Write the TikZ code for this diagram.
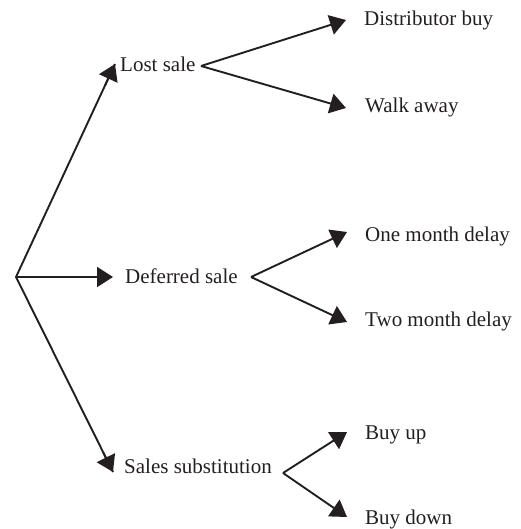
\documentclass[tikz,border=0pt]{standalone}
\usepackage{fontspec}
\setmainfont{Liberation Serif}
\usetikzlibrary{arrows.meta,calc}
\definecolor{ink}{HTML}{231F20}
\begin{document}
\begin{tikzpicture}[x=1pt,y=-1pt,
  lbl/.style={anchor=base west,inner sep=0pt,font=\fontsize{21}{24}\selectfont,text=ink},
  conn/.style={draw=ink,line width=1.9pt,-{Triangle[length=16pt,width=20pt]}},
  link/.style={draw=ink,line width=1.9pt}]
\useasboundingbox (0,0) rectangle (520,529);
\coordinate (root) at (16,277);
% level 1
\node[lbl] (ls) at (120,72) {Lost sale};
\node[lbl] (ds) at (125,283) {Deferred sale};
\node[lbl] (ss) at (124,473) {Sales substitution};
\coordinate (lstip) at (115,64);
\coordinate (dstip) at (113,277);
\coordinate (sstip) at (113,472);
\draw[link] (lstip) -- (root) -- (sstip);
\draw[conn] ($(root)!0.9!(lstip)$) -- (lstip);
\draw[conn] (root) -- (dstip);
\draw[conn] ($(root)!0.9!(sstip)$) -- (sstip);
% level 2
\node[lbl] (db) at (364,26) {Distributor buy};
\node[lbl] (wa) at (365,113) {Walk away};
\node[lbl] (om) at (365,241) {One month delay};
\node[lbl] (tm) at (365,326) {Two month delay};
\node[lbl] (bu) at (365,439) {Buy up};
\node[lbl] (bd) at (365,524) {Buy down};
\coordinate (lsb) at (201,66);
\coordinate (dsb) at (251,277);
\coordinate (ssb) at (283,473);
\coordinate (dbtip) at (346,20);
\coordinate (watip) at (346,108);
\coordinate (omtip) at (347,232);
\coordinate (tmtip) at (347,322);
\coordinate (butip) at (347,432);
\coordinate (bdtip) at (347,517);
\draw[conn] (lsb) -- (dbtip);
\draw[conn] (lsb) -- (watip);
\draw[conn] (dsb) -- (omtip);
\draw[conn] (dsb) -- (tmtip);
\draw[conn] (ssb) -- (butip);
\draw[conn] (ssb) -- (bdtip);
\end{tikzpicture}
\end{document}
